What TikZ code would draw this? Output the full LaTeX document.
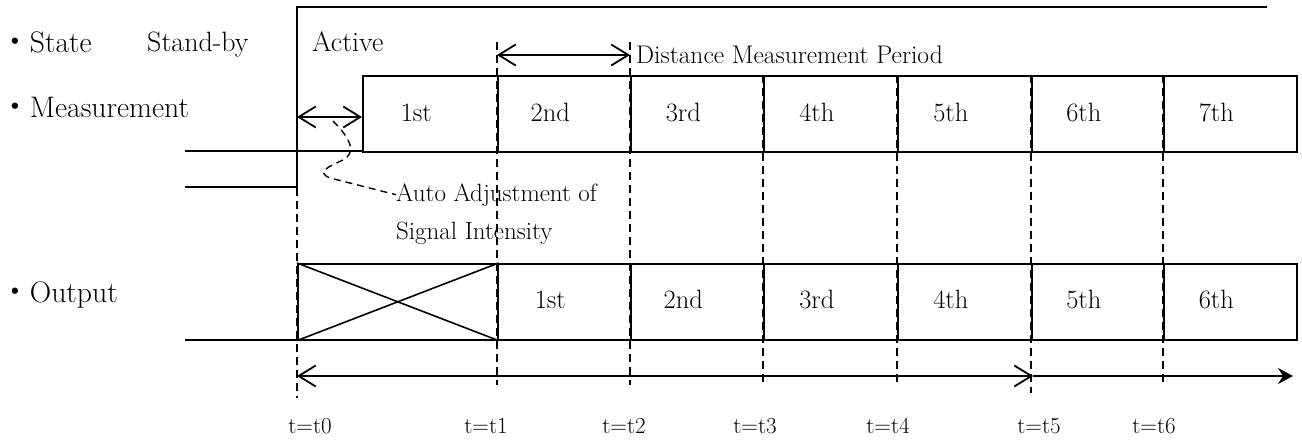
\documentclass[tikz,border=0pt]{standalone}
\usepackage{fontspec}
\newfontfamily\cjk{Noto Sans CJK JP}
\usetikzlibrary{arrows.meta}
\begin{document}
\begin{tikzpicture}[x=1pt,y=-1pt,
  wave/.style={line width=1.6pt},
  tick/.style={line width=1.4pt, dash pattern=on 8pt off 5pt},
  box/.style={draw, line width=1.6pt, rectangle, inner sep=0pt, anchor=north west, minimum height=76pt},
  lbl/.style={font=\fontsize{26.5}{31}\selectfont, inner sep=0pt},
  side/.style={font=\fontsize{29.7}{34}\selectfont, inner sep=0pt},
  stlbl/.style={font=\fontsize{28}{33}\selectfont, inner sep=0pt},
  notelbl/.style={font=\fontsize{25}{30}\selectfont, inner sep=0pt},
  dmplbl/.style={font=\fontsize{25.5}{30}\selectfont, inner sep=0pt},
  tlbl/.style={font=\fontsize{23}{28}\selectfont, inner sep=0pt},
  dim/.style={line width=1.8pt, {Straight Barb[length=17pt,width=21pt,line width=1.8pt]}-{Straight Barb[length=17pt,width=21pt,line width=1.8pt]}},
  note/.style={line width=1.4pt, dash pattern=on 7pt off 5pt},
]
\useasboundingbox (0,0) rectangle (1302,441);

% dashed time markers
\draw[tick] (297,45) -- (297,398);
\draw[tick] (497,42) -- (497,385);
\draw[tick] (630,42) -- (630,385);
\draw[tick] (763,75) -- (763,385);
\draw[tick] (897,75) -- (897,385);
\draw[tick] (1031,75) -- (1031,393);
\draw[tick] (1163,75) -- (1163,385);

% state waveform
\coordinate (s0) at (185,187);
\coordinate (s1) at (297,187);
\coordinate (s2) at (297,7);
\coordinate (s3) at (1267,7);
\draw[wave] (s0) -- (s1) -- (s2) -- (s3);

% measurement row
\coordinate (m0) at (185,151);
\coordinate (mS) at (362,151);
\draw[wave] (m0) -- (mS);
\foreach \n/\a/\b in {1/362/497,2/497/630,3/630/763,4/763/897,5/897/1031,6/1031/1163,7/1163/1296}
  \node[box, minimum width={\b-\a}] (m\n) at (\a,75) {};
\foreach \n/\t in {1/1st,2/2nd,3/3rd,4/4th,5/5th,6/6th,7/7th}
  \node[lbl] (mt\n) at ([xshift=-14pt,yshift=1pt]m\n.center) {\t};

% output row
\coordinate (o0) at (185,340);
\coordinate (oS) at (297,340);
\draw[wave] (o0) -- (oS);
\node[box, minimum width=200] (oX) at (297,263) {};
\draw[wave] (oX.north west) -- (oX.south east);
\draw[wave] (oX.south west) -- (oX.north east);
\foreach \n/\a/\b in {1/497/630,2/630/763,3/763/897,4/897/1031,5/1031/1163,6/1163/1296}
  \node[box, minimum width={\b-\a}] (o\n) at (\a,263) {};
\foreach \n/\t in {1/1st,2/2nd,3/3rd,4/4th,5/5th,6/6th}
  \node[lbl] (ot\n) at ([xshift=-14pt,yshift=2pt]o\n.center) {\t};

% left labels
\node[side, anchor=base west] (lstate) at (0,53) {{\cjk ・}State};
\node[side, anchor=base west] (lmeas) at (0,118) {{\cjk ・}Measurement};
\node[side, anchor=base west] (lout) at (0,302) {{\cjk ・}Output};
\node[stlbl, anchor=base west] (standby) at (147,52) {Stand-by};
\node[stlbl, anchor=base west] (active) at (312,52) {Active};

% distance measurement period
\coordinate (d0) at (497,55);
\coordinate (d1) at (630,55);
\draw[dim] (d0) -- (d1);
\node[dmplbl, anchor=west] (dmp) at (636,55) {Distance Measurement Period};

% auto adjustment
\coordinate (a0) at (297,117);
\coordinate (a1) at (362,117);
\draw[dim] (a0) -- (a1);
\node[notelbl, anchor=base west] (auto1) at (396,201) {Auto Adjustment of};
\node[notelbl, anchor=base west] (auto2) at (396,239) {Signal Intensity};
\coordinate (c0) at (333,121);
\draw[note] (c0) .. controls (352,140) and (356,153) .. (343,160)
  .. controls (330,166) and (315,172) .. (330,178) -- (auto1.west);

% bottom time arrows
\coordinate (b0) at (297,376);
\coordinate (b1) at (1033,376);
\coordinate (b2) at (1293,376);
\draw[dim] (b0) -- (b1);
\draw[line width=1.8pt, -{Stealth[length=15pt,width=16pt,inset=5pt]}] (b1) -- (b2);

% time labels
\node[tlbl, anchor=base] (l0) at (310,433) {t=t0};
\node[tlbl, anchor=base] (l1) at (486,433) {t=t1};
\node[tlbl, anchor=base] (l2) at (624,433) {t=t2};
\node[tlbl, anchor=base] (l3) at (755,433) {t=t3};
\node[tlbl, anchor=base] (l4) at (888,433) {t=t4};
\node[tlbl, anchor=base] (l5) at (1039,433) {t=t5};
\node[tlbl, anchor=base] (l6) at (1154,433) {t=t6};
\end{tikzpicture}
\end{document}
